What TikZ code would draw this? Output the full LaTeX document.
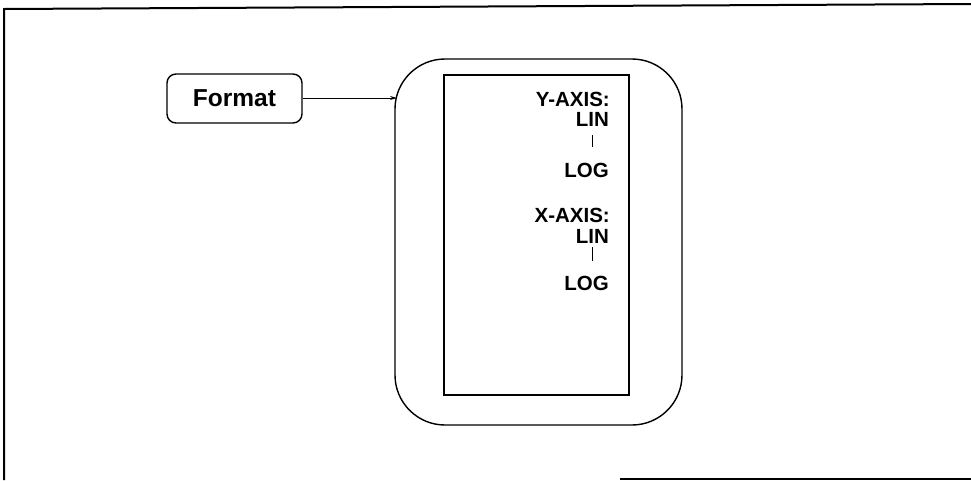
\documentclass[tikz,border=0pt]{standalone}
\usepackage{fontspec}
\setmainfont{Liberation Sans}
\usetikzlibrary{arrows.meta}
\begin{document}
\begin{tikzpicture}[x=1pt,y=-1pt,
  lbl/.style={font=\bfseries\fontsize{20.5}{20.5}\selectfont, inner sep=0pt, anchor=base east, text height=14pt, text depth=0pt},
  boxline/.style={line width=1.4pt},
  frameline/.style={line width=2pt}]
\useasboundingbox (0,0) rectangle (971,480);
% frame
\draw[frameline] (4,480) -- (4,9) -- (971,4);
\draw[frameline] (620,479) -- (971,479);
% Format box
\node[draw, boxline, rounded corners=9pt, minimum width=135pt, minimum height=49pt,
      font=\bfseries\fontsize{24.5}{24.5}\selectfont, inner sep=0pt] (fmt) at (234.5,98.5) {Format};
% outer rounded screen
\node[draw, boxline, rounded corners=50pt, minimum width=287pt, minimum height=366pt] (screen) at (538.5,242) {};
% inner rectangle
\node[draw, boxline, minimum width=185pt, minimum height=320pt, inner sep=0pt] (inner) at (536.5,235) {};
% arrow
\coordinate (tip) at (397,98);
\draw[line width=1pt, -{Stealth[length=7pt,width=4pt]}] (fmt.east |- tip) -- (tip);
% labels
\node[lbl] (yax) at (610,106) {Y-AXIS:};
\node[lbl] (lin1) at (609,126) {LIN};
\node[lbl] (log1) at (609,177) {LOG};
\node[lbl] (xax) at (610,222) {X-AXIS:};
\node[lbl] (lin2) at (609,243) {LIN};
\node[lbl] (log2) at (609,290) {LOG};
\draw[line width=1pt] ([yshift=-9pt]lin1.base) -- ([yshift=-21pt]lin1.base);
\draw[line width=1pt] ([yshift=-4pt]lin2.base) -- ([yshift=-18pt]lin2.base);
\end{tikzpicture}
\end{document}
